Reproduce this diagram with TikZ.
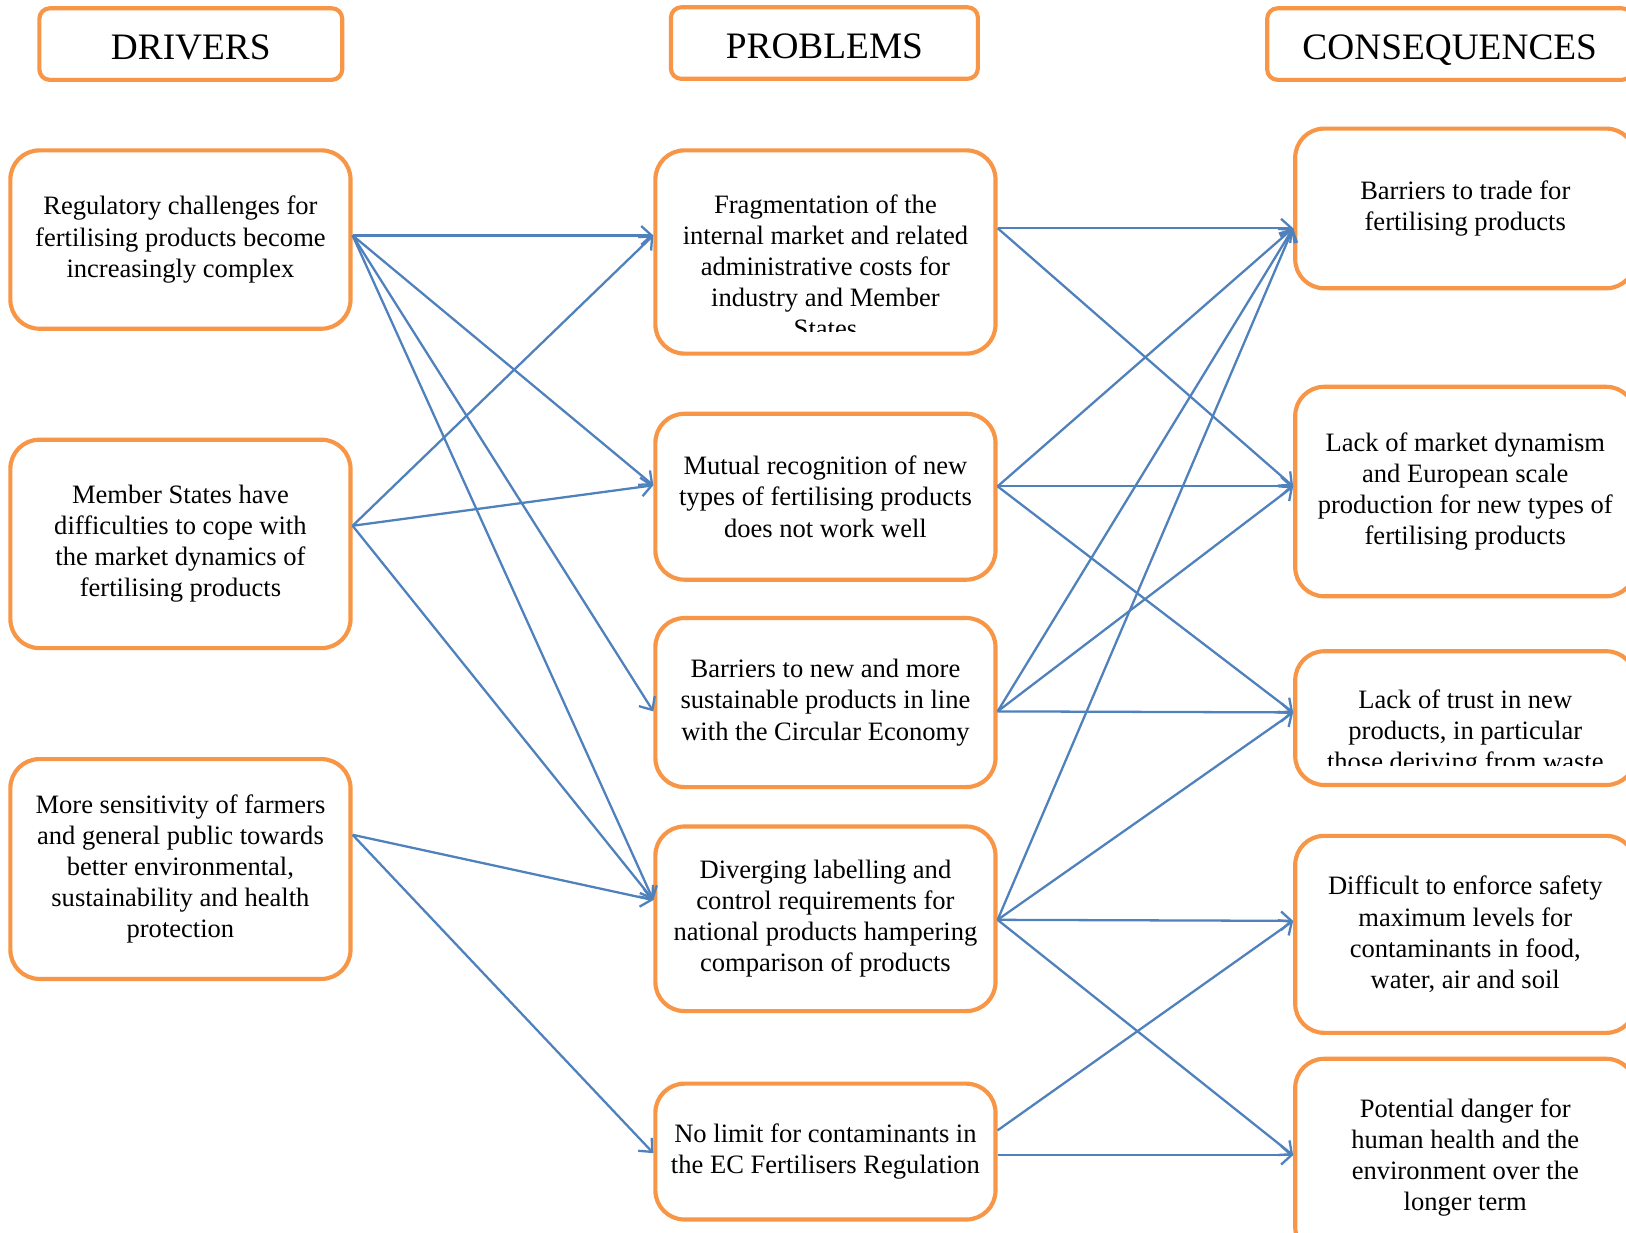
\documentclass[tikz,border=0pt]{standalone}
\usepackage{fontspec}
\setmainfont{Liberation Serif}
\usetikzlibrary{arrows.meta,calc}
\definecolor{borange}{HTML}{F79646}
\definecolor{ablue}{HTML}{4F81BD}
\tikzset{
  box/.style={draw=borange, line width=2pt, rounded corners=14pt, fill=white,
    align=center, inner sep=0pt, minimum width=164pt,
    font=\fontsize{12.8}{15}\selectfont},
  head/.style={draw=borange, line width=2pt, rounded corners=5pt, fill=white,
    align=center, inner sep=0pt, minimum height=34.5pt,
    text height=15pt, text depth=0pt,
    font=\fontsize{18}{22}\selectfont},
  txt/.style={align=center, inner sep=0pt, font=\fontsize{12.8}{15}\selectfont},
  arr/.style={draw=ablue, line width=1.1pt,
    -{Straight Barb[length=5pt,width=9pt,line width=1.1pt]}}
}
\begin{document}
\begin{tikzpicture}[x=0.5pt,y=-0.5pt]
\clip (0,0) rectangle (1568,1189);
\fill[white] (0,0) rectangle (1568,1189);
% headers
\node[head, minimum width=146pt] (h1) at (184,42.5) {DRIVERS};
\node[head, minimum width=148pt] (h2) at (795,41.5) {PROBLEMS};
\node[head, minimum width=176pt] (h3) at (1398,42.5) {CONSEQUENCES};
% drivers
\node[box, minimum height=86pt] (d1) at (174,231) {Regulatory challenges for\\fertilising products become\\increasingly complex};
\node[box, minimum height=100.5pt] (d2) at (174,524.5) {Member States have\\difficulties to cope with\\the market dynamics of\\fertilising products};
\node[box, minimum height=106pt] (d3) at (174,838) {More sensitivity of farmers\\and general public towards\\better environmental,\\sustainability and health\\protection};
% problems
\node[box, minimum height=98pt] (p1) at (796,243) {};
\begin{scope}
\clip (640,150) rectangle (955,320);
\node[txt] (p1t) at (796,257) {Fragmentation of the\\internal market and related\\administrative costs for\\industry and Member\\States};
\end{scope}
\node[box, minimum height=80pt] (p2) at (796,479) {Mutual recognition of new\\types of fertilising products\\does not work well};
\node[box, minimum height=81.5pt] (p3) at (796,677.5) {Barriers to new and more\\sustainable products in line\\with the Circular Economy};
\node[box, minimum height=89pt] (p4) at (796,886) {Diverging labelling and\\control requirements for\\national products hampering\\comparison of products};
\node[box, minimum height=65.5pt] (p5) at (796,1110.5) {No limit for contaminants in\\the EC Fertilisers Regulation};
% consequences
\node[box, minimum height=77pt] (c1) at (1413,201) {Barriers to trade for\\fertilising products};
\node[box, minimum height=101pt] (c2) at (1413,474) {Lack of market dynamism\\and European scale\\production for new types of\\fertilising products};
\node[box, minimum height=64.5pt] (c3) at (1413,692.5) {};
\begin{scope}
\clip (1255,630) rectangle (1570,738);
\node[txt] (c3t) at (1413,707) {Lack of trust in new\\products, in particular\\those deriving from waste};
\end{scope}
\node[box, minimum height=95pt] (c4) at (1413,901) {Difficult to enforce safety\\maximum levels for\\contaminants in food,\\water, air and soil};
\node[box, minimum height=95pt] (c5) at (1413,1116) {Potential danger for\\human health and the\\environment over the\\longer term};
% connection points
\coordinate (d1o) at ($(d1.east)+(0,-4)$);
\coordinate (d2o) at ($(d2.east)+(0,-17.5)$);
\coordinate (d3o) at ($(d3.east)+(0,-33)$);
\coordinate (p1i) at ($(p1.west)+(0,-16)$);
\coordinate (p1o) at ($(p1.east)+(0,-23)$);
\coordinate (p2i) at ($(p2.west)+(0,-11)$);
\coordinate (p2o) at ($(p2.east)+(0,-10)$);
\coordinate (p3i) at ($(p3.west)+(0,8.5)$);
\coordinate (p3o) at ($(p3.east)+(0,8.5)$);
\coordinate (p4i) at ($(p4.west)+(0,-18)$);
\coordinate (p4o) at ($(p4.east)+(0,1)$);
\coordinate (p5i) at ($(p5.west)+(0,1.5)$);
\coordinate (p5o) at ($(p5.east)+(0,3.5)$);
\coordinate (p5u) at ($(p5.east)+(0,-20.5)$);
\coordinate (c1i) at ($(c1.west)+(0,19)$);
\coordinate (c2i) at ($(c2.west)+(0,-5)$);
\coordinate (c3i) at ($(c3.west)+(0,-5.5)$);
\coordinate (c4i) at ($(c4.west)+(0,-13)$);
\coordinate (c5i) at ($(c5.west)+(0,-2)$);
% drivers -> problems
\draw[arr] (d1o) -- (p1i);
\draw[arr] (d1o) -- (p2i);
\draw[arr] (d1o) -- (p3i);
\draw[arr] (d1o) -- (p4i);
\draw[arr] (d2o) -- (p1i);
\draw[arr] (d2o) -- (p2i);
\draw[arr] (d2o) -- (p4i);
\draw[arr] (d3o) -- (p4i);
\draw[arr] (d3o) -- (p5i);
% problems -> consequences
\draw[arr] (p1o) -- (c1i);
\draw[arr] (p1o) -- (c2i);
\draw[arr] (p2o) -- (c1i);
\draw[arr] (p2o) -- (c2i);
\draw[arr] (p2o) -- (c3i);
\draw[arr] (p3o) -- (c1i);
\draw[arr] (p3o) -- (c2i);
\draw[arr] (p3o) -- (c3i);
\draw[arr] (p4o) -- (c1i);
\draw[arr] (p4o) -- (c3i);
\draw[arr] (p4o) -- (c4i);
\draw[arr] (p4o) -- (c5i);
\draw[arr] (p5u) -- (c4i);
\draw[arr] (p5o) -- (c5i);
\end{tikzpicture}
\end{document}
